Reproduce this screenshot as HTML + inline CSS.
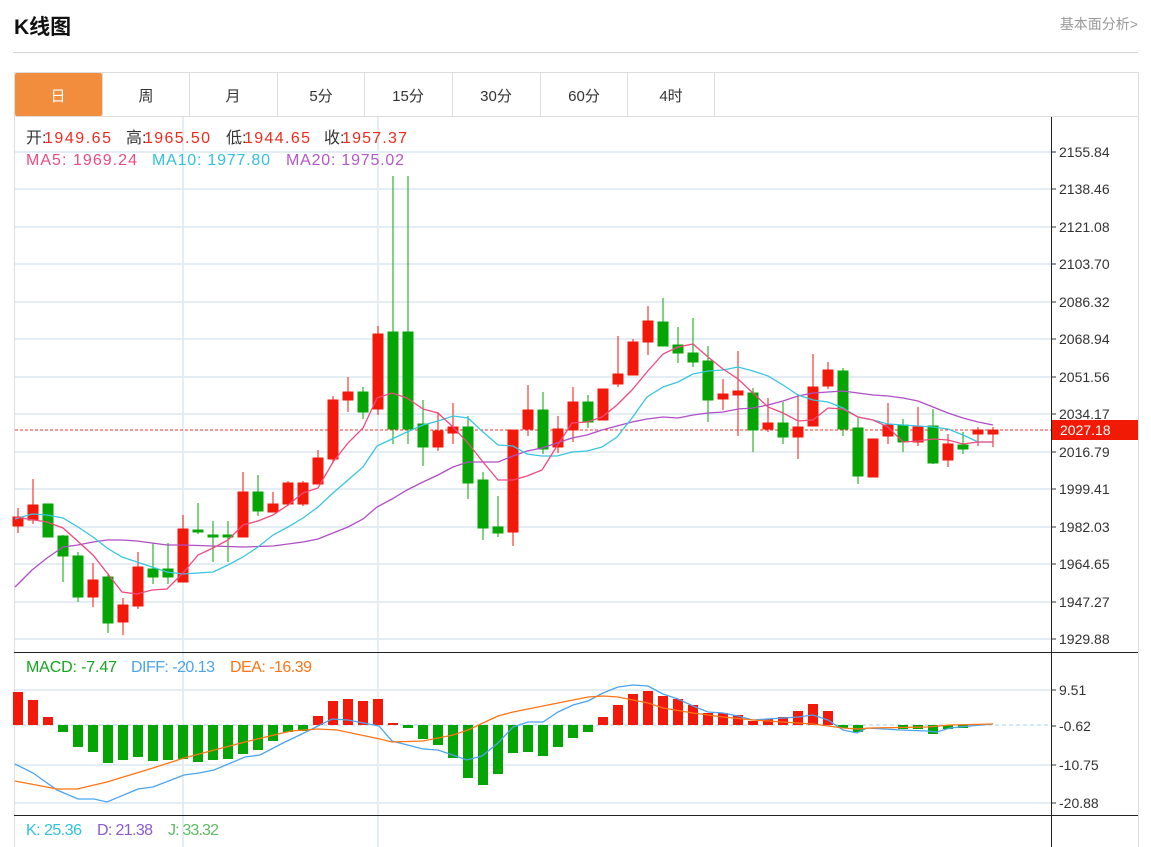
<!DOCTYPE html>
<html><head><meta charset="utf-8"><style>
html,body{margin:0;padding:0;background:#fff;width:1151px;height:847px;overflow:hidden}
svg{display:block;font-family:"Liberation Sans","Noto Sans CJK SC",sans-serif}
</style></head><body>
<svg width="1151" height="847" viewBox="0 0 1151 847" xmlns="http://www.w3.org/2000/svg">
<text x="14" y="34" font-size="21" font-weight="bold" fill="#111">K线图</text>
<text x="1138" y="29" font-size="14" fill="#999" text-anchor="end">基本面分析&gt;</text>
<line x1="13" y1="52.5" x2="1138" y2="52.5" stroke="#d4d4d4"/>
<rect x="14.5" y="72.5" width="1124" height="790" fill="none" stroke="#ddd"/>
<line x1="14" y1="116.5" x2="1138" y2="116.5" stroke="#ddd"/>
<rect x="15" y="73" width="87" height="43" fill="#f28d3e" rx="2"/>
<g stroke="#ddd"><line x1="189.5" y1="73" x2="189.5" y2="116"/><line x1="277.5" y1="73" x2="277.5" y2="116"/><line x1="364.5" y1="73" x2="364.5" y2="116"/><line x1="452.5" y1="73" x2="452.5" y2="116"/><line x1="540.5" y1="73" x2="540.5" y2="116"/><line x1="627.5" y1="73" x2="627.5" y2="116"/><line x1="714.5" y1="73" x2="714.5" y2="116"/><line x1="102.5" y1="73" x2="102.5" y2="116"/></g>
<g font-size="15" fill="#333" text-anchor="middle">
<text x="58" y="101" fill="#fff">日</text><text x="146" y="101">周</text><text x="233" y="101">月</text><text x="321" y="101">5分</text><text x="408" y="101">15分</text><text x="496" y="101">30分</text><text x="584" y="101">60分</text><text x="671" y="101">4时</text></g>
<g stroke="#e4edf4" stroke-width="2">
<line x1="15" y1="152" x2="1051" y2="152"/><line x1="15" y1="189" x2="1051" y2="189"/><line x1="15" y1="227" x2="1051" y2="227"/><line x1="15" y1="264" x2="1051" y2="264"/><line x1="15" y1="302" x2="1051" y2="302"/><line x1="15" y1="339" x2="1051" y2="339"/><line x1="15" y1="377" x2="1051" y2="377"/><line x1="15" y1="414" x2="1051" y2="414"/><line x1="15" y1="452" x2="1051" y2="452"/><line x1="15" y1="489" x2="1051" y2="489"/><line x1="15" y1="527" x2="1051" y2="527"/><line x1="15" y1="564" x2="1051" y2="564"/><line x1="15" y1="602" x2="1051" y2="602"/><line x1="15" y1="639" x2="1051" y2="639"/>
<line x1="15" y1="690" x2="1051" y2="690"/><line x1="15" y1="765" x2="1051" y2="765"/><line x1="15" y1="803" x2="1051" y2="803"/>
<line x1="183" y1="117" x2="183" y2="847"/><line x1="378" y1="117" x2="378" y2="847"/></g>
<line x1="15" y1="725" x2="1051" y2="725" stroke="#9fd6ea" stroke-dasharray="4,3"/>
<line x1="1051.5" y1="117" x2="1051.5" y2="847" stroke="#222"/>
<line x1="14" y1="652.5" x2="1138" y2="652.5" stroke="#222"/>
<line x1="14" y1="815.5" x2="1138" y2="815.5" stroke="#222"/>
<g font-size="14" fill="#333">
<text x="1059" y="157">2155.84</text><text x="1059" y="194">2138.46</text><text x="1059" y="232">2121.08</text><text x="1059" y="269">2103.70</text><text x="1059" y="307">2086.32</text><text x="1059" y="344">2068.94</text><text x="1059" y="382">2051.56</text><text x="1059" y="419">2034.17</text><text x="1059" y="457">2016.79</text><text x="1059" y="494">1999.41</text><text x="1059" y="532">1982.03</text><text x="1059" y="569">1964.65</text><text x="1059" y="607">1947.27</text><text x="1059" y="644">1929.88</text>
<text x="1059" y="695">9.51</text><text x="1059" y="731">-0.62</text><text x="1059" y="770">-10.75</text><text x="1059" y="808">-20.88</text></g>
<g stroke="#333"><line x1="1051" y1="152" x2="1056" y2="152"/><line x1="1051" y1="189" x2="1056" y2="189"/><line x1="1051" y1="227" x2="1056" y2="227"/><line x1="1051" y1="264" x2="1056" y2="264"/><line x1="1051" y1="302" x2="1056" y2="302"/><line x1="1051" y1="339" x2="1056" y2="339"/><line x1="1051" y1="377" x2="1056" y2="377"/><line x1="1051" y1="414" x2="1056" y2="414"/><line x1="1051" y1="452" x2="1056" y2="452"/><line x1="1051" y1="489" x2="1056" y2="489"/><line x1="1051" y1="527" x2="1056" y2="527"/><line x1="1051" y1="564" x2="1056" y2="564"/><line x1="1051" y1="602" x2="1056" y2="602"/><line x1="1051" y1="639" x2="1056" y2="639"/><line x1="1051" y1="690" x2="1056" y2="690"/><line x1="1051" y1="726" x2="1056" y2="726"/><line x1="1051" y1="765" x2="1056" y2="765"/><line x1="1051" y1="803" x2="1056" y2="803"/></g>
<line x1="15" y1="430" x2="1051" y2="430" stroke="#e33" stroke-dasharray="3,2"/>
<rect x="1052" y="420" width="86" height="20" fill="#f01a05"/>
<text x="1060" y="435" font-size="14" fill="#fff">2027.18</text>
<g fill="#05a505" stroke="#05a505" stroke-width="1">
<line x1="48" y1="504" x2="48" y2="537"/><rect x="43" y="504" width="10" height="33"/>
<line x1="63" y1="535" x2="63" y2="582"/><rect x="58" y="536" width="10" height="20"/>
<line x1="78" y1="552" x2="78" y2="602"/><rect x="73" y="556" width="10" height="41"/>
<line x1="108" y1="573" x2="108" y2="633"/><rect x="103" y="577" width="10" height="46"/>
<line x1="153" y1="543" x2="153" y2="584"/><rect x="148" y="569" width="10" height="8"/>
<line x1="168" y1="543" x2="168" y2="584"/><rect x="163" y="569" width="10" height="8"/>
<line x1="198" y1="503" x2="198" y2="534"/><rect x="193" y="530" width="10" height="2"/>
<line x1="213" y1="521" x2="213" y2="562"/><rect x="208" y="535" width="10" height="2"/>
<line x1="228" y1="521" x2="228" y2="562"/><rect x="223" y="535" width="10" height="2"/>
<line x1="258" y1="475" x2="258" y2="516"/><rect x="253" y="492" width="10" height="19"/>
<line x1="363" y1="387" x2="363" y2="419"/><rect x="358" y="392" width="10" height="20"/>
<line x1="393" y1="176" x2="393" y2="444"/><rect x="388" y="332" width="10" height="97"/>
<line x1="408" y1="176" x2="408" y2="444"/><rect x="403" y="332" width="10" height="97"/>
<line x1="423" y1="400" x2="423" y2="466"/><rect x="418" y="424" width="10" height="23"/>
<line x1="468" y1="416" x2="468" y2="499"/><rect x="463" y="427" width="10" height="56"/>
<line x1="483" y1="472" x2="483" y2="540"/><rect x="478" y="480" width="10" height="48"/>
<line x1="498" y1="496" x2="498" y2="537"/><rect x="493" y="527" width="10" height="6"/>
<line x1="543" y1="392" x2="543" y2="454"/><rect x="538" y="410" width="10" height="39"/>
<line x1="588" y1="395" x2="588" y2="428"/><rect x="583" y="402" width="10" height="20"/>
<line x1="663" y1="298" x2="663" y2="346"/><rect x="658" y="322" width="10" height="24"/>
<line x1="678" y1="327" x2="678" y2="363"/><rect x="673" y="345" width="10" height="8"/>
<line x1="693" y1="318" x2="693" y2="367"/><rect x="688" y="353" width="10" height="9"/>
<line x1="708" y1="346" x2="708" y2="422"/><rect x="703" y="361" width="10" height="39"/>
<line x1="753" y1="388" x2="753" y2="452"/><rect x="748" y="393" width="10" height="37"/>
<line x1="783" y1="402" x2="783" y2="444"/><rect x="778" y="423" width="10" height="14"/>
<line x1="843" y1="368" x2="843" y2="436"/><rect x="838" y="371" width="10" height="58"/>
<line x1="858" y1="417" x2="858" y2="484"/><rect x="853" y="428" width="10" height="48"/>
<line x1="903" y1="419" x2="903" y2="452"/><rect x="898" y="425" width="10" height="17"/>
<line x1="933" y1="409" x2="933" y2="464"/><rect x="928" y="426" width="10" height="37"/>
<line x1="963" y1="432" x2="963" y2="454"/><rect x="958" y="445" width="10" height="4"/>
</g>
<g fill="#f2190a" stroke="#f2190a" stroke-width="1">
<line x1="18" y1="508" x2="18" y2="533"/><rect x="13" y="517" width="10" height="9"/>
<line x1="33" y1="479" x2="33" y2="524"/><rect x="28" y="505" width="10" height="15"/>
<line x1="93" y1="563" x2="93" y2="607"/><rect x="88" y="580" width="10" height="17"/>
<line x1="123" y1="598" x2="123" y2="635"/><rect x="118" y="605" width="10" height="17"/>
<line x1="138" y1="552" x2="138" y2="609"/><rect x="133" y="567" width="10" height="39"/>
<line x1="183" y1="515" x2="183" y2="582"/><rect x="178" y="529" width="10" height="53"/>
<line x1="243" y1="472" x2="243" y2="537"/><rect x="238" y="492" width="10" height="45"/>
<line x1="273" y1="492" x2="273" y2="512"/><rect x="268" y="504" width="10" height="8"/>
<line x1="288" y1="481" x2="288" y2="506"/><rect x="283" y="483" width="10" height="21"/>
<line x1="303" y1="481" x2="303" y2="506"/><rect x="298" y="483" width="10" height="21"/>
<line x1="318" y1="450" x2="318" y2="484"/><rect x="313" y="458" width="10" height="26"/>
<line x1="333" y1="396" x2="333" y2="463"/><rect x="328" y="400" width="10" height="59"/>
<line x1="348" y1="377" x2="348" y2="412"/><rect x="343" y="392" width="10" height="8"/>
<line x1="378" y1="326" x2="378" y2="415"/><rect x="373" y="334" width="10" height="75"/>
<line x1="438" y1="412" x2="438" y2="451"/><rect x="433" y="431" width="10" height="16"/>
<line x1="453" y1="403" x2="453" y2="444"/><rect x="448" y="427" width="10" height="6"/>
<line x1="513" y1="430" x2="513" y2="546"/><rect x="508" y="430" width="10" height="102"/>
<line x1="528" y1="385" x2="528" y2="436"/><rect x="523" y="410" width="10" height="19"/>
<line x1="558" y1="416" x2="558" y2="453"/><rect x="553" y="429" width="10" height="18"/>
<line x1="573" y1="387" x2="573" y2="442"/><rect x="568" y="402" width="10" height="28"/>
<line x1="603" y1="389" x2="603" y2="420"/><rect x="598" y="389" width="10" height="31"/>
<line x1="618" y1="336" x2="618" y2="387"/><rect x="613" y="374" width="10" height="10"/>
<line x1="633" y1="339" x2="633" y2="375"/><rect x="628" y="342" width="10" height="33"/>
<line x1="648" y1="306" x2="648" y2="355"/><rect x="643" y="321" width="10" height="21"/>
<line x1="723" y1="379" x2="723" y2="410"/><rect x="718" y="394" width="10" height="5"/>
<line x1="738" y1="351" x2="738" y2="436"/><rect x="733" y="391" width="10" height="4"/>
<line x1="768" y1="398" x2="768" y2="432"/><rect x="763" y="423" width="10" height="6"/>
<line x1="798" y1="394" x2="798" y2="459"/><rect x="793" y="427" width="10" height="10"/>
<line x1="813" y1="354" x2="813" y2="426"/><rect x="808" y="387" width="10" height="39"/>
<line x1="828" y1="362" x2="828" y2="389"/><rect x="823" y="370" width="10" height="16"/>
<rect x="868" y="439" width="10" height="38"/>
<line x1="888" y1="403" x2="888" y2="444"/><rect x="883" y="425" width="10" height="11"/>
<line x1="918" y1="407" x2="918" y2="446"/><rect x="913" y="427" width="10" height="15"/>
<line x1="948" y1="434" x2="948" y2="467"/><rect x="943" y="444" width="10" height="16"/>
<line x1="978" y1="427" x2="978" y2="446"/><rect x="973" y="430" width="10" height="4"/>
<line x1="993" y1="427" x2="993" y2="447"/><rect x="988" y="430" width="10" height="4"/>
</g>
<g fill="none" stroke-width="1.3">
<polyline stroke="#b04ec6" points="15,587 32,570 47,558 63,547 78,545 93,542 107,540 122,540 137,541 152,543 167,545 183,545 213,546 243,547 273,546 288,544 303,542 318,539 333,533 348,527 363,519 377,507 392,499 407,490 423,482 438,475 453,467 468,462 483,462 498,462 513,456 527,451 542,448 557,443 572,438 587,435 602,430 617,426 632,422 647,419 663,417 678,418 693,415 708,413 723,412 738,409 753,408 768,405 783,401 798,396 813,393 828,392 843,391 858,393 873,395 888,396 903,398 918,401 933,407 948,413 963,418 978,422 993,425"/>
<polyline stroke="#38c6df" points="15,519 32,514 47,515 63,518 78,527 93,537 107,548 122,557 137,562 152,567 167,572 183,574 198,573 213,572 228,565 243,557 258,547 273,535 288,527 303,518 318,507 333,493 348,480 363,467 377,446 392,439 407,432 423,425 438,421 453,416 468,418 483,432 498,445 513,446 527,454 542,456 557,456 572,452 587,451 602,447 617,437 632,418 647,397 663,387 678,382 693,374 708,371 723,370 738,367 753,371 768,376 783,385 798,395 813,400 828,402 843,408 858,417 873,420 888,424 903,425 918,426 933,427 948,429 963,435 978,442 993,442"/>
<polyline stroke="#ef4a7e" points="15,517 47,522 63,528 93,555 122,592 137,594 152,590 167,589 183,573 198,555 213,548 228,540 243,525 258,521 273,515 288,505 303,493 318,488 333,462 348,443 363,428 377,398 392,393 407,398 423,409 438,413 453,427 468,443 483,462 498,480 513,480 527,476 542,470 557,446 572,423 587,422 602,417 617,405 632,390 647,372 663,354 678,347 693,344 708,357 723,369 738,379 753,393 768,407 783,413 798,421 813,420 828,408 843,409 858,417 873,420 888,427 903,442 918,441 933,439 948,440 963,444 978,442 993,442"/>
</g>
<g fill="#f2190a">
<rect x="13" y="692" width="10" height="33"/><rect x="28" y="700" width="10" height="25"/><rect x="43" y="717" width="10" height="8"/>
<rect x="313" y="716" width="10" height="9"/><rect x="328" y="701" width="10" height="24"/><rect x="343" y="699" width="10" height="26"/><rect x="358" y="701" width="10" height="24"/><rect x="373" y="699" width="10" height="26"/><rect x="388" y="723" width="10" height="2"/>
<rect x="598" y="717" width="10" height="8"/><rect x="613" y="705" width="10" height="20"/><rect x="628" y="694" width="10" height="31"/><rect x="643" y="691" width="10" height="34"/><rect x="658" y="696" width="10" height="29"/><rect x="673" y="699" width="10" height="26"/><rect x="688" y="705" width="10" height="20"/><rect x="703" y="713" width="10" height="12"/><rect x="718" y="713" width="10" height="12"/><rect x="733" y="715" width="10" height="10"/><rect x="748" y="721" width="10" height="4"/><rect x="763" y="719" width="10" height="6"/><rect x="778" y="717" width="10" height="8"/><rect x="793" y="711" width="10" height="14"/><rect x="808" y="704" width="10" height="21"/><rect x="823" y="711" width="10" height="14"/>
</g>
<g fill="#05a505">
<rect x="58" y="725" width="10" height="7"/><rect x="73" y="725" width="10" height="22"/><rect x="88" y="725" width="10" height="27"/><rect x="103" y="725" width="10" height="38"/><rect x="118" y="725" width="10" height="35"/><rect x="133" y="725" width="10" height="32"/><rect x="148" y="725" width="10" height="36"/><rect x="163" y="725" width="10" height="35"/><rect x="178" y="725" width="10" height="34"/><rect x="193" y="725" width="10" height="37"/><rect x="208" y="725" width="10" height="35"/><rect x="223" y="725" width="10" height="34"/><rect x="238" y="725" width="10" height="29"/><rect x="253" y="725" width="10" height="25"/><rect x="268" y="725" width="10" height="16"/><rect x="283" y="725" width="10" height="7"/><rect x="298" y="725" width="10" height="6"/>
<rect x="403" y="725" width="10" height="3"/><rect x="418" y="725" width="10" height="14"/><rect x="433" y="725" width="10" height="20"/><rect x="448" y="725" width="10" height="33"/><rect x="463" y="725" width="10" height="53"/><rect x="478" y="725" width="10" height="60"/><rect x="493" y="725" width="10" height="49"/><rect x="508" y="725" width="10" height="28"/><rect x="523" y="725" width="10" height="27"/><rect x="538" y="725" width="10" height="31"/><rect x="553" y="725" width="10" height="22"/><rect x="568" y="725" width="10" height="13"/><rect x="583" y="725" width="10" height="7"/>
<rect x="838" y="725" width="10" height="3"/><rect x="853" y="725" width="10" height="7"/><rect x="898" y="725" width="10" height="4"/><rect x="913" y="725" width="10" height="4"/><rect x="928" y="725" width="10" height="9"/><rect x="943" y="725" width="10" height="4"/><rect x="958" y="725" width="10" height="3"/>
</g>
<g fill="none" stroke-width="1.3">
<polyline stroke="#4ba4ef" points="15,764 33,773 57,790 78,799 94,799 107,802 138,789 153,787 184,775 199,773 214,770 245,757 260,755 283,743 306,732 332,719 348,720 379,726 392,741 423,749 438,750 467,760 482,756 498,743 513,727 528,722 543,722 558,712 573,705 588,701 603,693 618,687 633,685 648,686 663,694 678,699 693,706 708,712 723,713 738,716 753,720 768,719 783,718 798,717 813,715 828,720 843,730 857,733 867,728 900,730 927,731 937,732 950,728 970,726 993,724"/>
<polyline stroke="#ff7414" points="15,781 57,789 77,789 107,782 153,768 184,758 245,742 291,731 318,729 337,730 380,739 392,742 423,741 453,735 468,730 483,723 498,716 513,712 543,706 573,700 588,697 603,696 618,697 633,700 648,703 663,708 693,713 723,717 753,720 783,722 813,724 843,728 858,729 870,728 927,727 950,725 993,724"/>
</g>
<g font-size="16">
<text x="26" y="143" fill="#333">开:</text><text x="44" y="143" fill="#f02b1e" textLength="67">1949.65</text>
<text x="126" y="143" fill="#333">高:</text><text x="144" y="143" fill="#f02b1e" textLength="66">1965.50</text>
<text x="226" y="143" fill="#333">低:</text><text x="244" y="143" fill="#f02b1e" textLength="66">1944.65</text>
<text x="324" y="143" fill="#333">收:</text><text x="342" y="143" fill="#f02b1e" textLength="65">1957.37</text>
<text x="26" y="165" fill="#ee4a82" textLength="111">MA5:  1969.24</text>
<text x="152" y="165" fill="#32c2db" textLength="118">MA10:  1977.80</text>
<text x="286" y="165" fill="#b457c8" textLength="118">MA20:  1975.02</text>
<text x="26" y="672" fill="#15a51e" textLength="91">MACD: -7.47</text>
<text x="131" y="672" fill="#4ba4ef" textLength="84">DIFF: -20.13</text>
<text x="230" y="672" fill="#ff7414" textLength="82">DEA: -16.39</text>
<text x="26" y="835" fill="#2fc3dc" textLength="56">K: 25.36</text>
<text x="97" y="835" fill="#8a5ad0" textLength="56">D: 21.38</text>
<text x="168" y="835" fill="#5dbb63" textLength="51">J: 33.32</text>
</g>
</svg>
</body></html>
